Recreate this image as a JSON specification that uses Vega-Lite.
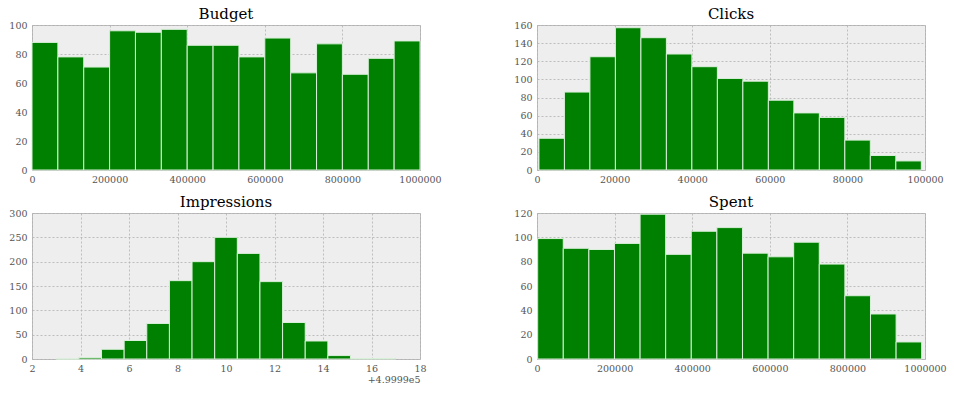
{
  "$schema": "https://vega.github.io/schema/vega-lite/v6.json",
  "autosize": {"type": "pad"},
  "padding": {"left": 8, "top": 6, "right": 5, "bottom": 5},
  "background": "white",
  "bounds": "flush",
  "columns": 2,
  "spacing": {"row": 43, "column": 117},
  "datasets": {
    "budget": [
      {"x0": 0, "x1": 66667, "count": 88},
      {"x0": 66667, "x1": 133333, "count": 78},
      {"x0": 133333, "x1": 200000, "count": 71},
      {"x0": 200000, "x1": 266667, "count": 96},
      {"x0": 266667, "x1": 333333, "count": 95},
      {"x0": 333333, "x1": 400000, "count": 97},
      {"x0": 400000, "x1": 466667, "count": 86},
      {"x0": 466667, "x1": 533333, "count": 86},
      {"x0": 533333, "x1": 600000, "count": 78},
      {"x0": 600000, "x1": 666667, "count": 91},
      {"x0": 666667, "x1": 733333, "count": 67},
      {"x0": 733333, "x1": 800000, "count": 87},
      {"x0": 800000, "x1": 866667, "count": 66},
      {"x0": 866667, "x1": 933333, "count": 77},
      {"x0": 933333, "x1": 1000000, "count": 89}
    ],
    "clicks": [
      {"x0": 500, "x1": 7070, "count": 35},
      {"x0": 7070, "x1": 13640, "count": 86},
      {"x0": 13640, "x1": 20210, "count": 125},
      {"x0": 20210, "x1": 26780, "count": 157},
      {"x0": 26780, "x1": 33350, "count": 146},
      {"x0": 33350, "x1": 39920, "count": 128},
      {"x0": 39920, "x1": 46490, "count": 114},
      {"x0": 46490, "x1": 53060, "count": 101},
      {"x0": 53060, "x1": 59630, "count": 98},
      {"x0": 59630, "x1": 66200, "count": 77},
      {"x0": 66200, "x1": 72770, "count": 63},
      {"x0": 72770, "x1": 79340, "count": 58},
      {"x0": 79340, "x1": 85910, "count": 33},
      {"x0": 85910, "x1": 92480, "count": 16},
      {"x0": 92480, "x1": 99050, "count": 10}
    ],
    "impressions": [
      {"x0": 3, "x1": 3.933, "count": 0},
      {"x0": 3.933, "x1": 4.867, "count": 3},
      {"x0": 4.867, "x1": 5.8, "count": 20},
      {"x0": 5.8, "x1": 6.733, "count": 38},
      {"x0": 6.733, "x1": 7.667, "count": 73},
      {"x0": 7.667, "x1": 8.6, "count": 161},
      {"x0": 8.6, "x1": 9.533, "count": 200},
      {"x0": 9.533, "x1": 10.467, "count": 250},
      {"x0": 10.467, "x1": 11.4, "count": 217},
      {"x0": 11.4, "x1": 12.333, "count": 159},
      {"x0": 12.333, "x1": 13.267, "count": 75},
      {"x0": 13.267, "x1": 14.2, "count": 37},
      {"x0": 14.2, "x1": 15.133, "count": 7},
      {"x0": 15.133, "x1": 16.067, "count": 1},
      {"x0": 16.067, "x1": 17, "count": 1}
    ],
    "spent": [
      {"x0": 1700, "x1": 67700, "count": 99},
      {"x0": 67700, "x1": 133700, "count": 91},
      {"x0": 133700, "x1": 199700, "count": 90},
      {"x0": 199700, "x1": 265700, "count": 95},
      {"x0": 265700, "x1": 331600, "count": 119},
      {"x0": 331600, "x1": 397600, "count": 86},
      {"x0": 397600, "x1": 463600, "count": 105},
      {"x0": 463600, "x1": 529600, "count": 108},
      {"x0": 529600, "x1": 595600, "count": 87},
      {"x0": 595600, "x1": 661500, "count": 84},
      {"x0": 661500, "x1": 727500, "count": 96},
      {"x0": 727500, "x1": 793500, "count": 78},
      {"x0": 793500, "x1": 859500, "count": 52},
      {"x0": 859500, "x1": 925500, "count": 37},
      {"x0": 925500, "x1": 991400, "count": 14}
    ]
  },
  "concat": [
    {
      "title": "Budget",
      "width": 388,
      "height": 145,
      "data": {"name": "budget"},
      "mark": {"type": "bar"},
      "encoding": {
        "x": {"field": "x0", "type": "quantitative", "scale": {"domain": [0, 1000000], "nice": false}, "axis": {"values": [0, 200000, 400000, 600000, 800000, 1000000]}},
        "x2": {"field": "x1"},
        "y": {"field": "count", "type": "quantitative", "scale": {"domain": [0, 100], "nice": false}, "axis": {"values": [0, 20, 40, 60, 80, 100]}},
        "y2": {"datum": 0}
      }
    },
    {
      "title": "Clicks",
      "width": 388,
      "height": 145,
      "data": {"name": "clicks"},
      "mark": {"type": "bar"},
      "encoding": {
        "x": {"field": "x0", "type": "quantitative", "scale": {"domain": [0, 100000], "nice": false}, "axis": {"values": [0, 20000, 40000, 60000, 80000, 100000]}},
        "x2": {"field": "x1"},
        "y": {"field": "count", "type": "quantitative", "scale": {"domain": [0, 160], "nice": false}, "axis": {"values": [0, 20, 40, 60, 80, 100, 120, 140, 160]}},
        "y2": {"datum": 0}
      }
    },
    {
      "title": "Impressions",
      "width": 388,
      "height": 146,
      "data": {"name": "impressions"},
      "mark": {"type": "bar"},
      "encoding": {
        "x": {"field": "x0", "type": "quantitative", "scale": {"domain": [2, 18], "nice": false}, "axis": {"values": [2, 4, 6, 8, 10, 12, 14, 16, 18], "title": "+4.9999e5", "titleAnchor": "end", "titleFont": "DejaVu Serif", "titleFontSize": 9.5, "titleFontWeight": "normal", "titleColor": "#555555", "titlePadding": 2}},
        "x2": {"field": "x1"},
        "y": {"field": "count", "type": "quantitative", "scale": {"domain": [0, 300], "nice": false}, "axis": {"values": [0, 50, 100, 150, 200, 250, 300]}},
        "y2": {"datum": 0}
      }
    },
    {
      "title": "Spent",
      "width": 388,
      "height": 146,
      "data": {"name": "spent"},
      "mark": {"type": "bar"},
      "encoding": {
        "x": {"field": "x0", "type": "quantitative", "scale": {"domain": [0, 1000000], "nice": false}, "axis": {"values": [0, 200000, 400000, 600000, 800000, 1000000]}},
        "x2": {"field": "x1"},
        "y": {"field": "count", "type": "quantitative", "scale": {"domain": [0, 120], "nice": false}, "axis": {"values": [0, 20, 40, 60, 80, 100, 120]}},
        "y2": {"datum": 0}
      }
    }
  ],
  "config": {
    "view": {"fill": "#eeeeee", "stroke": "#bcbcbc", "strokeWidth": 1},
    "bar": {"fill": "#008000", "stroke": "#d8efd8", "strokeWidth": 1, "binSpacing": 0},
    "title": {"font": "DejaVu Serif", "fontSize": 15, "fontWeight": "normal", "color": "#000000", "offset": -2, "anchor": "middle"},
    "axis": {
      "title": null,
      "domain": false,
      "ticks": false,
      "labelFont": "DejaVu Serif",
      "labelFontSize": 9.5,
      "labelColor": "#555555",
      "labelFlush": false,
      "labelOverlap": false,
      "format": "d",
      "grid": true,
      "gridColor": "#b0b0b0",
      "gridDash": [2, 2],
      "gridWidth": 0.8
    },
    "axisX": {"labelPadding": 4},
    "axisY": {"labelPadding": 5}
  }
}
